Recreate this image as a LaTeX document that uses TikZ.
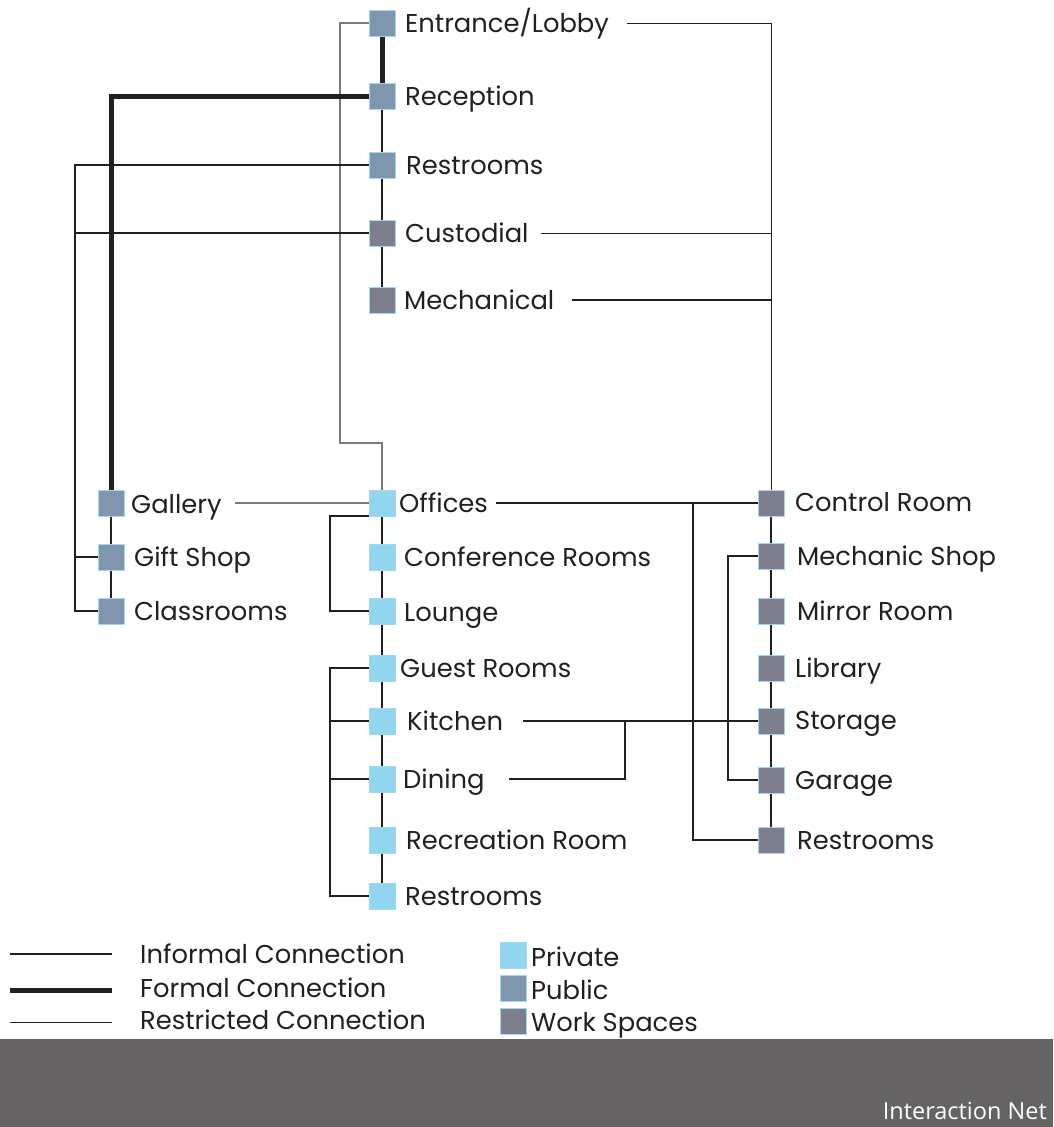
\documentclass[tikz,border=0pt]{standalone}
\usepackage{fontspec}
\setmainfont{Poppins}
\newfontfamily\bandfont{Open Sans}
\usetikzlibrary{calc}

\definecolor{privc}{HTML}{92D5EF}
\definecolor{pubc}{HTML}{7F96AE}
\definecolor{workc}{HTML}{7E7F8D}
\definecolor{edgec}{HTML}{9FD9F0}
\definecolor{inkc}{HTML}{231F20}
\definecolor{greyline}{HTML}{7A7A7A}
\definecolor{bandc}{HTML}{656363}

\begin{document}
\begin{tikzpicture}[x=1pt,y=-1pt,
  room/.style={draw=edgec, line width=0.9pt, minimum size=26pt, inner sep=0pt, outer sep=0pt},
  priv/.style={room, fill=privc},
  pub/.style={room, fill=pubc},
  work/.style={room, fill=workc},
  lbl/.style={anchor=base west, inner sep=0pt, font=\fontsize{25.8}{30}\selectfont, text=inkc},
  informal/.style={draw=inkc, line width=2.6pt},
  formal/.style={draw=inkc, line width=5pt},
  restricted/.style={draw=inkc, line width=1pt},
  restrictedgrey/.style={draw=greyline, line width=1.1pt},
]
\useasboundingbox (0,0) rectangle (1053,1127);

% ---- rooms: top column
\node[pub]  (entr) at (382,23)  {};
\node[pub]  (rec)  at (382,96)  {};
\node[pub]  (rsA)  at (382,165) {};
\node[work] (cust) at (382,233) {};
\node[work] (mech) at (382,300) {};
% ---- left column
\node[pub] (gal)  at (111,503) {};
\node[pub] (gift) at (111,557) {};
\node[pub] (cls)  at (111,611) {};
% ---- middle column
\node[priv] (off)  at (382,503) {};
\node[priv] (conf) at (382,557) {};
\node[priv] (lou)  at (382,611) {};
\node[priv] (gst)  at (382,668) {};
\node[priv] (kit)  at (382,721) {};
\node[priv] (din)  at (382,779) {};
\node[priv] (recr) at (382,840) {};
\node[priv] (rsB)  at (382,896) {};
% ---- right column
\node[work] (ctrl) at (771,503) {};
\node[work] (msh)  at (771,556) {};
\node[work] (mir)  at (771,611) {};
\node[work] (lib)  at (771,668) {};
\node[work] (sto)  at (771,721) {};
\node[work] (gar)  at (771,780) {};
\node[work] (rsC)  at (771,840) {};

% ---- labels
\node[lbl] (entrL) at (405,32.5)  {Entrance/Lobby};
\node[lbl] (recL)  at (405,105.5) {Reception};
\node[lbl] (rsAL)  at (406,174.5) {Restrooms};
\node[lbl] (custL) at (405,242.5) {Custodial};
\node[lbl] (mechL) at (404,309.5) {Mechanical};
\node[lbl] (galL)  at (131,513.5) {Gallery};
\node[lbl] (giftL) at (134,566.5) {Gift Shop};
\node[lbl] (clsL)  at (134,620.5) {Classrooms};
\node[lbl] (offL)  at (399,512.5) {Offices};
\node[lbl] (confL) at (404,566.5) {Conference Rooms};
\node[lbl] (louL)  at (404,621)   {Lounge};
\node[lbl] (gstL)  at (400,677.5) {Guest Rooms};
\node[lbl] (kitL)  at (407,730.5) {Kitchen};
\node[lbl] (dinL)  at (403,788.5) {Dining};
\node[lbl] (recrL) at (406,849.5) {Recreation Room};
\node[lbl] (rsBL)  at (405,905.5) {Restrooms};
\node[lbl] (ctrlL) at (795,511.5) {Control Room};
\node[lbl] (mshL)  at (797,565.5) {Mechanic Shop};
\node[lbl] (mirL)  at (797,620.5) {Mirror Room};
\node[lbl] (libL)  at (795,677.5) {Library};
\node[lbl] (stoL)  at (795,729.5) {Storage};
\node[lbl] (garL)  at (795,789.5) {Garage};
\node[lbl] (rsCL)  at (797,849.5) {Restrooms};

% ---- helper coordinates for brackets and junctions
\coordinate (lx)  at (75,0);
\coordinate (lb)  at (330,0);
\coordinate (rb)  at (728,0);
\coordinate (rk)  at (340,443);
\coordinate (oj)  at (693,503);
\coordinate (dj)  at (625,721);

% restricted connections
\draw[restrictedgrey] (entr.west) -| (rk) -| (off.north);
\draw[restricted] ($(entr -| entrL.east)+(18,0)$) -| (ctrl.north);
\draw[restricted] ($(cust -| custL.east)+(12,0)$) -- (cust -| ctrl);
\draw[restrictedgrey] ($(gal -| galL.east)+(13,0)$) -- (off.west);

% informal connections
\draw[informal] (rec.south) -- (rsA.north);
\draw[informal] (rsA.south) -- (cust.north);
\draw[informal] (cust.south) -- (mech.north);
\draw[informal] ($(mech -| mechL.east)+(17,0)$) -- (mech -| ctrl);
\draw[informal] (rsA.west) -- (rsA.west -| lx) |- (cls.west);
\draw[informal] (cust.west) -- (cust.west -| lx);
\draw[informal] (gift.west) -- (gift.west -| lx);
\draw[informal] (gal.south) -- (gift.north);
\draw[informal] (gift.south) -- (cls.north);

\draw[informal] (off.south) -- (conf.north);
\draw[informal] (conf.south) -- (lou.north);
\draw[informal] (lou.south) -- (gst.north);
\draw[informal] (gst.south) -- (kit.north);
\draw[informal] (kit.south) -- (din.north);
\draw[informal] (din.south) -- (recr.north);
\draw[informal] (recr.south) -- (rsB.north);
\draw[informal] (off.south west) -- (off.south west -| lb) |- (lou.west);
\draw[informal] (gst.west) -- (gst.west -| lb) |- (rsB.west);
\draw[informal] (kit.west) -- (kit.west -| lb);
\draw[informal] (din.west) -- (din.west -| lb);

\draw[informal] ($(off -| offL.east)+(8,0)$) -- (ctrl.west);
\draw[informal] (oj) |- (rsC.west);
\draw[informal] ($(kit -| kitL.east)+(20,0)$) -- (sto.west);
\draw[informal] ($(din -| dinL.east)+(24,0)$) -| (dj);

\draw[informal] (ctrl.south) -- (msh.north);
\draw[informal] (msh.south) -- (mir.north);
\draw[informal] (mir.south) -- (lib.north);
\draw[informal] (lib.south) -- (sto.north);
\draw[informal] (sto.south) -- (gar.north);
\draw[informal] (gar.south) -- (rsC.north);
\draw[informal] (msh.west) -- (msh.west -| rb) |- (gar.west);

% formal connections
\draw[formal] (entr.south) -- (rec.north);
\draw[formal] (rec.west) -| (gal.north);

% redraw rooms above the lines
\foreach \n/\s in {entr/pub,rec/pub,rsA/pub,cust/work,mech/work,gal/pub,gift/pub,cls/pub,
  off/priv,conf/priv,lou/priv,gst/priv,kit/priv,din/priv,recr/priv,rsB/priv,
  ctrl/work,msh/work,mir/work,lib/work,sto/work,gar/work,rsC/work}
  \path[\s] (\n.south west) rectangle (\n.north east);

% ---- legend
\coordinate (lgAa) at (10,954);   \coordinate (lgAb) at (112,954);
\coordinate (lgBa) at (10,990);   \coordinate (lgBb) at (112,990);
\coordinate (lgCa) at (10,1022);  \coordinate (lgCb) at (112,1022);
\draw[informal] (lgAa) -- (lgAb);
\draw[formal] (lgBa) -- (lgBb);
\draw[restricted] (lgCa) -- (lgCb);
\node[lbl] (lgAL) at (140,963)  {Informal Connection};
\node[lbl] (lgBL) at (140,997)  {Formal Connection};
\node[lbl] (lgCL) at (140,1029) {Restricted Connection};

\node[priv] (kPriv) at (513.5,955.5) {};
\node[pub]  (kPub)  at (513.5,988)   {};
\node[work] (kWork) at (513.5,1021)  {};
\node[lbl] (kPrivL) at (531,966)  {Private};
\node[lbl] (kPubL)  at (531,999)  {Public};
\node[lbl] (kWorkL) at (531,1031) {Work Spaces};

% ---- title band
\fill[bandc] (0,1039) rectangle (1053,1127);
\node[anchor=base east, inner sep=0pt, text=white, font=\bandfont\fontsize{23.5}{27}\selectfont]
  (title) at (1047,1119) {Interaction Net};
\end{tikzpicture}
\end{document}
